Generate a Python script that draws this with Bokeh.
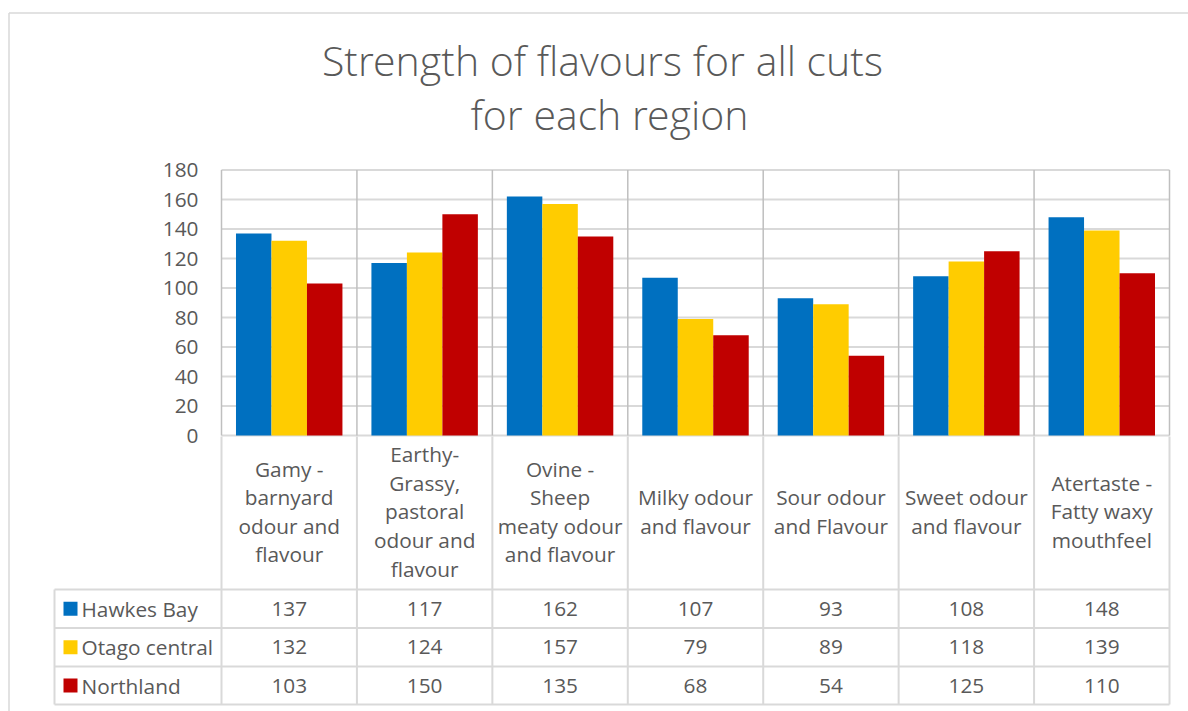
from bokeh.plotting import figure
from bokeh.models import Range1d, ColumnDataSource
from bokeh.transform import dodge
from bokeh.core.properties import value
from bokeh.embed import file_html
from bokeh.resources import INLINE

# ---------------- data ----------------
title_lines = ["Strength of flavours for all cuts", "for each region"]
categories = [
    "Gamy -\nbarnyard\nodour and\nflavour",
    "Earthy-\nGrassy,\npastoral\nodour and\nflavour",
    "Ovine -\nSheep\nmeaty odour\nand flavour",
    "Milky odour\nand flavour",
    "Sour odour\nand Flavour",
    "Sweet odour\nand flavour",
    "Atertaste -\nFatty waxy\nmouthfeel",
]
series_names = ["Hawkes Bay", "Otago central", "Northland"]
hawkes_bay = [137, 117, 162, 107, 93, 108, 148]
otago_central = [132, 124, 157, 79, 89, 118, 139]
northland = [103, 150, 135, 68, 54, 125, 110]
y_ticks = [0, 20, 40, 60, 80, 100, 120, 140, 160, 180]

# ---------------- style / layout ----------------
W, H = 1188, 711
FONT = value("Open Sans")
TITLE_FONT = value("Open Sans Light, Open Sans")
TXT = "#595959"
GRID = "#d9d9d9"
SEP = "#bfbfbf"
colors = ["#0070C0", "#FFCC00", "#C00000"]

PLOT_L, PLOT_R = 221.0, 1169.0
ZERO_PX, TOP_PX = 435.0, 169.5
CAT_W = (PLOT_R - PLOT_L) / len(categories)
Y_SCALE = (ZERO_PX - TOP_PX) / 180.0

x_start = -0.5 - PLOT_L / CAT_W
x_end = -0.5 + (W - PLOT_L) / CAT_W
y_start = -(H - ZERO_PX) / Y_SCALE
y_end = 180 + TOP_PX / Y_SCALE

p = figure(width=W, height=H, output_backend="svg", toolbar_location=None,
           x_range=Range1d(x_start, x_end), y_range=Range1d(y_start, y_end),
           x_axis_type=None, y_axis_type=None, min_border=0,
           outline_line_color=None, background_fill_color="white",
           border_fill_color="white")
p.grid.visible = False
p.extra_x_ranges = {"px": Range1d(0, W)}
p.extra_y_ranges = {"py": Range1d(H, 0)}

n = len(categories)
idx = list(range(n))

# outer chart border (top and left visible)
p.segment(x0=[8.5, 8.5], y0=[12.5, 12.5], x1=[W, 8.5], y1=[12.5, H],
          x_range_name="px", y_range_name="py", line_color=GRID, line_width=1.5)

# title
p.text(x=[602, 609], y=[59.5, 113], text=title_lines,
       x_range_name="px", y_range_name="py", text_font=TITLE_FONT,
       text_font_size="41px", text_color=TXT, text_align="center",
       text_baseline="middle")

# horizontal gridlines
p.segment(x0=[-0.5] * len(y_ticks), x1=[n - 0.5] * len(y_ticks), y0=y_ticks, y1=y_ticks,
          line_color=GRID, line_width=2)

# y tick labels
p.text(x=[198] * len(y_ticks), y=y_ticks, text=[str(t) for t in y_ticks],
       x_range_name="px", text_font=FONT, text_font_size="20.8px",
       text_color=TXT, text_align="right", text_baseline="middle")

# category separators in plot area
bounds = [i - 0.5 for i in range(n + 1)]
p.segment(x0=bounds, x1=bounds, y0=[0] * (n + 1), y1=[180] * (n + 1),
          line_color=SEP, line_width=1.5)

# bars
src = ColumnDataSource(dict(idx=idx, hb=hawkes_bay, oc=otago_central, nl=northland))
bw = 0.262
for key, off, col in zip(["hb", "oc", "nl"], [-bw, 0.0, bw], colors):
    p.vbar(x=dodge("idx", off), top=key, bottom=0, width=bw, source=src,
           fill_color=col, line_color=None)

# ---------------- data table ----------------
HEAD_BOTTOM = 589.0
ROW_LINES = [589.0, 627.5, 666.0, 704.0]
row_centers = [(ROW_LINES[i] + ROW_LINES[i + 1]) / 2 for i in range(3)]
TABLE_L = 54.0

# vertical lines at category boundaries (table part)
p.segment(x0=bounds, x1=bounds, y0=[ZERO_PX + 1] * (n + 1), y1=[ROW_LINES[-1]] * (n + 1),
          y_range_name="py", line_color=GRID, line_width=2)
# left border of the row-label column
p.segment(x0=[TABLE_L], x1=[TABLE_L], y0=[ROW_LINES[0]], y1=[ROW_LINES[-1]],
          x_range_name="px", y_range_name="py", line_color=GRID, line_width=2)
# horizontal row lines
p.segment(x0=[TABLE_L] * 4, x1=[PLOT_R] * 4, y0=ROW_LINES, y1=ROW_LINES,
          x_range_name="px", y_range_name="py", line_color=GRID, line_width=2)

# category labels in header
p.text(x=idx, y=[(ZERO_PX + HEAD_BOTTOM) / 2 - 1] * n, text=categories,
       y_range_name="py", text_font=FONT, text_font_size="20.8px",
       text_color=TXT, text_align="center", text_baseline="middle",
       text_line_height=1.02)

# row legend keys and names
p.scatter(x=[70] * 3, y=row_centers, marker="square", size=14,
          fill_color=colors, line_color=None, x_range_name="px", y_range_name="py")
p.text(x=[81] * 3, y=row_centers, text=series_names,
       x_range_name="px", y_range_name="py", text_font=FONT,
       text_font_size="20.8px", text_color=TXT, text_align="left",
       text_baseline="middle")

# values
for r, vals in enumerate([hawkes_bay, otago_central, northland]):
    p.text(x=idx, y=[row_centers[r]] * n, text=[str(v) for v in vals],
           y_range_name="py", text_font=FONT, text_font_size="20.8px",
           text_color=TXT, text_align="center", text_baseline="middle")

open("out.html", "w").write(file_html(p, INLINE))
